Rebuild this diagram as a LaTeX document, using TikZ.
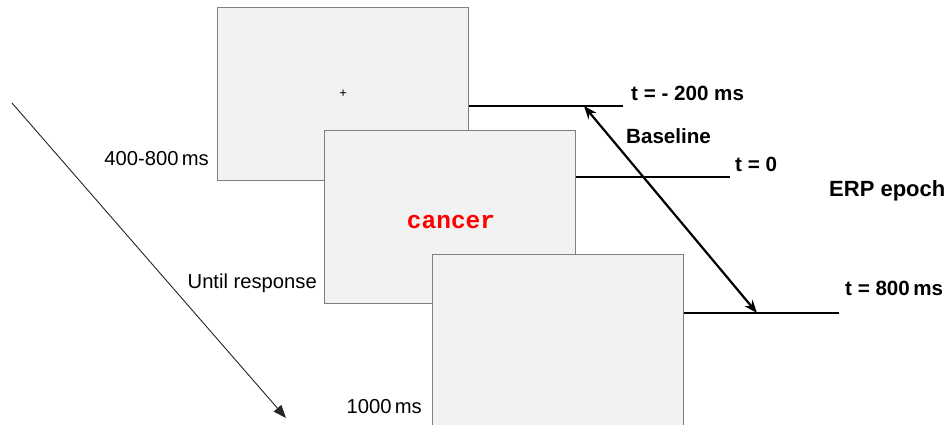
\documentclass[tikz,border=0pt]{standalone}
\usepackage{fontspec}
\setmainfont{Liberation Sans}
\newfontfamily\monobold{Liberation Mono Bold}
\usetikzlibrary{arrows.meta}
\definecolor{screenfill}{HTML}{F2F2F2}
\definecolor{screenedge}{HTML}{7F7F7F}
\tikzset{
  screen/.style={draw=screenedge, fill=screenfill, line width=1.1pt,
    minimum width=251pt, minimum height=173pt, inner sep=0pt, anchor=north west},
  timeline/.style={line width=2.6pt},
  durlabel/.style={anchor=base east, inner sep=0pt, font=\fontsize{20.2}{23}\selectfont},
  tlabel/.style={anchor=base west, inner sep=0pt, font=\fontsize{20.6}{23}\selectfont\bfseries},
}
\begin{document}
\begin{tikzpicture}[x=1pt, y=-1pt]
\clip (0,0) rectangle (949,425);
\fill[white] (0,0) rectangle (949,425);

% stimulus screens
\node[screen] (s1) at (217,7) {};
\node[screen] (s2) at (324,130) {};
\node[screen] (s3) at (432,254) {};

% fixation cross and target word
\node[inner sep=0pt] (fix) at (s1.center) {\fontsize{13}{14}\selectfont +};
\node[inner sep=0pt, text=red] (word) at (451,222) {\fontsize{24.5}{26}\selectfont\monobold cancer};

% time-line ends
\coordinate (e1) at (623,106);
\coordinate (e2) at (730,177);
\coordinate (e3) at (839,313);
\draw[timeline] (s1.east |- e1) -- (e1);
\draw[timeline] (s2.east |- e2) -- (e2);
\draw[timeline] (s3.east |- e3) -- (e3);

% baseline / epoch span
\coordinate (a1) at (584,106);
\coordinate (a2) at (757,313);
\draw[line width=2.2pt, {Stealth[length=13pt,width=10pt]}-{Stealth[length=13pt,width=10pt]}] (a1) -- (a2);

% time flow arrow
\coordinate (f1) at (12,103);
\coordinate (f2) at (286,418);
\draw[line width=0.9pt, draw=black!85, -{Triangle[length=13pt,width=10pt]}] (f1) -- (f2);

% durations
\node[durlabel] (d1) at (209,165) {400-800\,ms};
\node[durlabel] (d2) at (317,288) {Until response};
\node[durlabel] (d3) at (422,413) {1000\,ms};

% epoch labels
\node[tlabel] (t1) at (631,101) {t = - 200 ms};
\node[tlabel] (bl) at (626,143) {Baseline};
\node[tlabel] (t2) at (735,171) {t = 0};
\node[tlabel, font=\fontsize{22}{24}\selectfont\bfseries] (ep) at (829,196) {ERP epoch};
\node[tlabel] (t3) at (845,295) {t = 800\,ms};
\end{tikzpicture}
\end{document}
